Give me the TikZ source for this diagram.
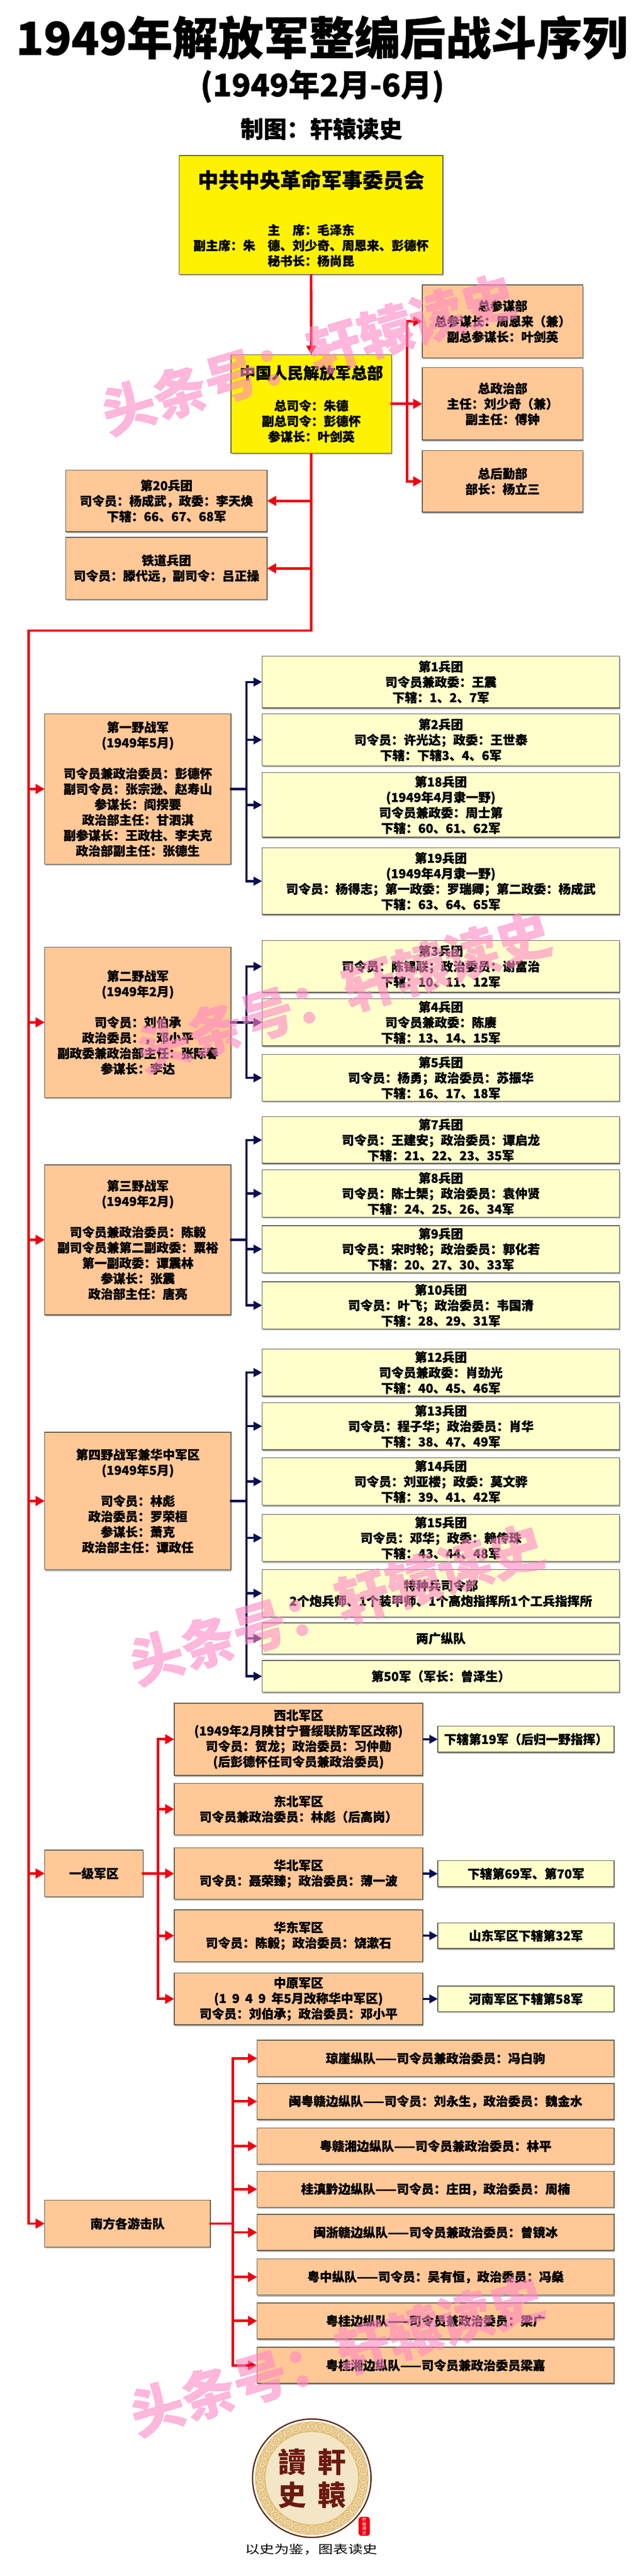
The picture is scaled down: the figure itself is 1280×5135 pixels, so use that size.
\documentclass[tikz,border=0pt]{standalone}
\usepackage{fontspec}
\setmainfont{Noto Sans CJK SC}[BoldFeatures={FakeBold=0.7}]
\newfontfamily\tcfont{Noto Sans CJK TC}
\usetikzlibrary{arrows.meta,shadows,calc}

\newcommand{\bodyfont}{\fontsize{18.5pt}{23.1pt}\selectfont\bfseries}
\newcommand{\headfont}{\fontsize{30.75pt}{34pt}\selectfont\bfseries}
\newcommand{\subheadfont}{\fontsize{23.8pt}{28pt}\selectfont\bfseries}

\definecolor{orangebox}{HTML}{FFC896}
\definecolor{lightbox}{HTML}{FFFFCC}
\definecolor{redline}{HTML}{F00010}
\definecolor{navyline}{HTML}{0A0F50}
\definecolor{edgeline}{HTML}{5A5648}
\definecolor{logobrown}{HTML}{5A2A1A}
\definecolor{logogold}{HTML}{E3C07A}
\definecolor{logocream}{HTML}{F3E6C6}
\definecolor{logotext}{HTML}{6B1A10}
\definecolor{markpink}{HTML}{FF88C4}

\tikzset{
  box/.style={draw=edgeline,line width=1.1pt,inner sep=0pt,outer sep=0pt,align=center,
    font=\bodyfont,anchor=north west,
    copy shadow={shadow xshift=1pt,shadow yshift=-2.2pt,fill=gray!60,draw=none}},
  sized/.style 2 args={minimum width=#1*0.75pt,minimum height=#2*0.75pt},
  orange/.style={box,fill=orangebox},
  pale/.style={box,fill=lightbox},
  chief/.style={box,fill=yellow},
  redwire/.style={draw=redline,line width=3.75pt,line cap=rect},
  navywire/.style={draw=navyline,line width=3.4pt,line cap=rect},
  redarrow/.style={draw=redline,line width=3.75pt,-{Triangle[length=13.5pt,width=14.25pt]}},
  navyarrow/.style={draw=navyline,line width=3.4pt,-{Triangle[length=12.75pt,width=12.75pt]}},
  wmark/.style={font=\fontsize{80pt}{90pt}\selectfont\bfseries,text=markpink,
    text opacity=0.6,rotate=16.5,inner sep=0pt},
}

\begin{document}
\begin{tikzpicture}[x=0.75pt,y=-0.75pt]
\useasboundingbox (0,0) rectangle (1280,5135);
\fill[white] (0,0) rectangle (1280,5135);

% headings
\node[font=\fontsize{68pt}{75pt}\selectfont\bfseries] (title) at (641,75) {1949年解放军整编后战斗序列};
\node[font=\fontsize{46.5pt}{52pt}\selectfont\bfseries] (subtitle) at (642,172) {(1949年2月-6月)};
\node[font=\fontsize{34.5pt}{40pt}\selectfont\bfseries] (maker) at (640,257) {制图：轩辕读史};

% top of the tree
\node[chief,sized={525}{237}] (zhongyang) at (357,310)
  {\rule{0pt}{37pt}{\headfont 中共中央革命军事委员会}\\[47pt]主\hspace{1em}席：毛泽东\\副主席：朱\hspace{1em}德、刘少奇、周恩来、彭德怀\\秘书长：杨尚昆};
\node[chief,sized={320}{196}] (zongbu) at (460,707)
  {{\subheadfont 中国人民解放军总部}\\[24pt]总司令：朱德\\副总司令：彭德怀\\参谋长：叶剑英};

\node[orange,sized={320}{145}] (zongcan) at (841,568) {总参谋部\\总参谋长：周恩来（兼）\\副总参谋长：叶剑英};
\node[orange,sized={320}{144}] (zongzheng) at (841,733) {总政治部\\主任：刘少奇（兼）\\副主任：傅钟};
\node[orange,sized={320}{123}] (zonghou) at (841,898) {总后勤部\\部长：杨立三};
\node[orange,sized={401}{123}] (bt20) at (131,937) {第20兵团\\司令员：杨成武，政委：李天焕\\下辖：66、67、68军};
\node[orange,sized={401}{124}] (tiedao) at (131,1071) {铁道兵团\\司令员：滕代远，副司令：吕正操};

% field armies
\node[orange,sized={371}{299.5}] (yiye) at (89,1423)
  {第一野战军\\(1949年5月)\\[23.1pt]司令员兼政治委员：彭德怀\\副司令员：张宗逊、赵寿山\\参谋长：阎揆要\\政治部主任：甘泗淇\\副参谋长：王政柱、李夫克\\政治部副主任：张德生};
\node[orange,sized={371}{300}] (erye) at (89,1888)
  {第二野战军\\(1949年2月)\\[23.1pt]司令员：刘伯承\\政治委员：，邓小平\\副政委兼政治部主任：张际春\\参谋长：李达};
\node[orange,sized={371}{299}] (sanye) at (89,2322)
  {第三野战军\\(1949年2月)\\[23.1pt]司令员兼政治委员：陈毅\\副司令员兼第二副政委：粟裕\\第一副政委：谭震林\\参谋长：张震\\政治部主任：唐亮};
\node[orange,sized={371}{274}] (siye) at (89,2855)
  {第四野战军兼华中军区\\(1949年5月)\\[23.1pt]司令员：林彪\\政治委员：罗荣桓\\参谋长：萧克\\政治部主任：谭政任};

\foreach \nm/\yt/\hh/\txt in {
  a1/1308/103/{第1兵团\\司令员兼政委：王震\\下辖：1、2、7军},
  a2/1423/103.5/{第2兵团\\司令员：许光达；政委：王世泰\\下辖：下辖3、4、6军},
  a18/1540/129/{第18兵团\\(1949年4月隶一野)\\司令员兼政委：周士第\\下辖：60、61、62军},
  a19/1690/133/{第19兵团\\(1949年4月隶一野)\\司令员：杨得志；第一政委：罗瑞卿；第二政委：杨成武\\下辖：63、64、65军},
  a3/1875/103/{第3兵团\\司令员：陈锡联；政治委员：谢富治\\下辖：10、11、12军},
  a4/1991/94/{第4兵团\\司令员兼政委：陈赓\\下辖：13、14、15军},
  a5/2102/93/{第5兵团\\司令员：杨勇；政治委员：苏振华\\下辖：16、17、18军},
  a7/2226/93/{第7兵团\\司令员：王建安；政治委员：谭启龙\\下辖：21、22、23、35军},
  a8/2332/94/{第8兵团\\司令员：陈士榘；政治委员：袁仲贤\\下辖：24、25、26、34军},
  a9/2443/94/{第9兵团\\司令员：宋时轮；政治委员：郭化若\\下辖：20、27、30、33军},
  a10/2555/94/{第10兵团\\司令员：叶飞；政治委员：韦国清\\下辖：28、29、31军},
  a12/2689/94/{第12兵团\\司令员兼政委：肖劲光\\下辖：40、45、46军},
  a13/2796/94/{第13兵团\\司令员：程子华；政治委员：肖华\\下辖：38、47、49军},
  a14/2906/94.5/{第14兵团\\司令员：刘亚楼；政委：莫文骅\\下辖：39、41、42军},
  a15/3019/93.5/{第15兵团\\司令员：邓华；政委：赖传珠\\下辖：43、44、48军},
  tezhong/3129/94/{特种兵司令部\\2个炮兵师、1个装甲师、1个高炮指挥所1个工兵指挥所},
  liangguang/3235/62/{两广纵队},
  a50/3310/63/{第50军（军长：曾泽生）}}
  \node[pale,sized={712}{\hh}] (\nm) at (522,\yt) {\txt};

% military regions
\node[orange,sized={196}{93}] (yiji) at (89,3688) {一级军区};
\foreach \nm/\yt/\hh/\txt in {
  xibei/3395/144/{西北军区\\(1949年2月陕甘宁晋绥联防军区改称)\\司令员：贺龙；政治委员：习仲勋\\(后彭德怀任司令员兼政治委员)},
  dongbei/3555/102.5/{东北军区\\司令员兼政治委员：林彪（后高岗）},
  huabei/3683.5/102.5/{华北军区\\司令员：聂荣臻；政治委员：薄一波},
  huadong/3807/103/{华东军区\\司令员：陈毅；政治委员：饶漱石},
  zhongyuan/3933/103/{中原军区\\(1\hspace{0.45em}9\hspace{0.45em}4\hspace{0.45em}9\hspace{0.45em}年5月改称华中军区)\\司令员：刘伯承；政治委员：邓小平}}
  \node[orange,sized={495}{\hh}] (\nm) at (347,\yt) {\txt};

\foreach \nm/\yt/\hh/\txt in {
  xibeisub/3441/52/{下辖第19军（后归一野指挥）},
  huabeisub/3709/52/{下辖第69军、第70军},
  huadongsub/3833/51/{山东军区下辖第32军},
  zhongyuansub/3959/51/{河南军区下辖第58军}}
  \node[pale,sized={351}{\hh}] (\nm) at (872,\yt) {\txt};

% southern guerrillas
\node[orange,sized={330}{93}] (nanfang) at (89,4386) {南方各游击队};
\foreach \nm/\yt/\txt in {
  z1/4067/{琼崖纵队——司令员兼政治委员：冯白驹},
  z2/4153/{闽粤赣边纵队——司令员：刘永生，政治委员：魏金水},
  z3/4242/{粤赣湘边纵队——司令员兼政治委员：林平},
  z4/4328/{桂滇黔边纵队——司令员：庄田，政治委员：周楠},
  z5/4414/{闽浙赣边纵队——司令员兼政治委员：曾镜冰},
  z6/4503/{粤中纵队——司令员：吴有恒，政治委员：冯燊},
  z7/4590.5/{粤桂边纵队——司令员兼政治委员：梁广},
  z8/4679/{粤桂湘边纵队——司令员兼政治委员梁嘉}}
  \node[orange,sized={711}{72}] (\nm) at (512,\yt) {\txt};

% wires
\coordinate (leftbus) at (57,1257);
\coordinate (staffbus) at (811,805);
\coordinate (firstbus) at (491,0);
\coordinate (regionbus) at (315,0);
\coordinate (southbus) at (464,0);

\draw[redarrow] (zhongyang.south) -- (zongbu.north);
\draw[redarrow] (zongbu.south) |- (leftbus) -- (leftbus |- nanfang.west) -- (nanfang.west);
\foreach \nm in {bt20,tiedao}
\draw[redarrow] (zongbu.south |- \nm.east) -- (\nm.east);
\foreach \nm in {yiye,erye,sanye,siye,yiji}
\draw[redarrow] (leftbus |- \nm.west) -- (\nm.west);

\draw[redwire] (zongbu.east) -- (staffbus);
\draw[redwire] (staffbus |- zongcan.west) -- (staffbus |- zonghou.west);
\foreach \nm in {zongcan,zongzheng,zonghou}
\draw[redarrow] (staffbus |- \nm.west) -- (\nm.west);

\foreach \from/\first/\last in {yiye/a1/a19,erye/a3/a5,sanye/a7/a10,siye/a12/a50} {
  \draw[navywire] (\from.east) -- (\from.east -| firstbus);
  \draw[navywire] (firstbus |- \first.west) -- (firstbus |- \last.west);
}
\foreach \nm in {a1,a2,a18,a19,a3,a4,a5,a7,a8,a9,a10,a12,a13,a14,a15,tezhong,liangguang,a50}
\draw[navyarrow] (firstbus |- \nm.west) -- (\nm.west);

\draw[redwire] (regionbus |- xibei.west) -- (regionbus |- zhongyuan.west);
\draw[redwire] (yiji.east) -- (yiji.east -| regionbus);
\foreach \nm in {xibei,dongbei,huabei,huadong,zhongyuan}
\draw[redarrow] (regionbus |- \nm.west) -- (\nm.west);
\foreach \nm/\sub in {xibei/xibeisub,huabei/huabeisub,huadong/huadongsub,zhongyuan/zhongyuansub}
\draw[navyarrow] (\nm.east) -- (\sub.west);

\draw[redwire] (nanfang.east) -- (nanfang.east -| southbus);
\draw[redwire] (southbus |- z1.west) -- (southbus |- z8.west);
\foreach \nm in {z1,z2,z3,z4,z5,z6,z7,z8}
\draw[redarrow] (southbus |- \nm.west) -- (\nm.west);

% logo
\coordinate (logo) at (621,4940);
\draw[logobrown,line width=2pt,fill=white] (logo) circle[radius=118];
\fill[logogold] (logo) circle[radius=113];
\foreach \a in {0,9,...,351} {
  \draw[logocream,line width=0.9pt] ($(logo)+(\a:103)$) circle[radius=7.5];
  \draw[logocream,line width=0.8pt] ($(logo)+(\a:103)$) circle[radius=3];
}
\fill[logocream] (logo) circle[radius=92];
\foreach \nm/\x/\y/\ch in {du/582/4908/讀,xuan/661/4908/軒,shi/582/4974/史,yuan/661/4974/轅}
\node[font=\tcfont\fontsize{42pt}{46pt}\selectfont\bfseries,text=logotext,inner sep=0pt] (\nm) at (\x,\y) {\ch};
\node[fill=redline,rounded corners=4pt,text=white,align=center,inner sep=0pt,minimum width=17pt,minimum height=28.5pt,
  font=\tcfont\fontsize{6pt}{6.6pt}\selectfont] (seal) at (725.5,5036) {軒\\轅\\讀\\史};
\node[font=\fontsize{22pt}{26pt}\selectfont] (motto) at (620,5082) {\scalebox{1}[0.78]{以史为鉴，图表读史}};

% watermarks
\foreach \nm/\x/\y in {wa/614/706,wb/684/1977,wc/670/3198,wd/671/4695}
\node[wmark] (\nm) at (\x,\y) {头条号：轩辕读史};
\end{tikzpicture}
\end{document}
